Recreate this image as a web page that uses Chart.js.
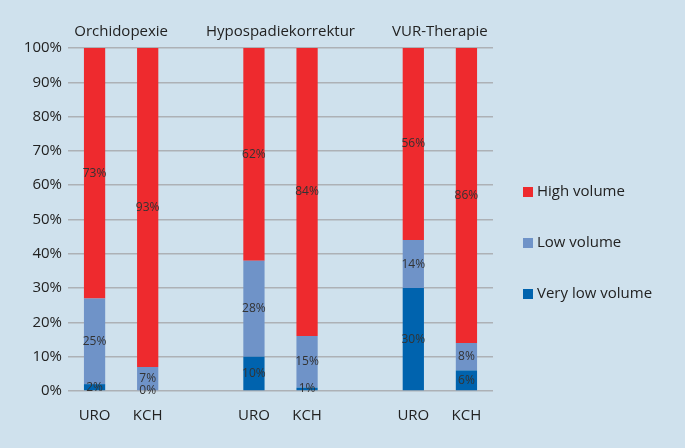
<!DOCTYPE html>
<html>
<head>
<meta charset="utf-8">
<script src="https://cdn.jsdelivr.net/npm/chart.js@4"></script>
<style>
  html, body { margin: 0; padding: 0; background: #cfe1ed; }
  #wrap { width: 685px; height: 448px; }
</style>
</head>
<body>
<div id="wrap"><canvas id="myChart"></canvas></div>
<script>
// categories (blank slots separate the groups)
const labels = ['URO', 'KCH', '', 'URO', 'KCH', '', 'URO', 'KCH'];
const groups = ['Orchidopexie', 'Hypospadiekorrektur', 'VUR-Therapie'];
const veryLow = [2, 0, null, 10, 1, null, 30, 6];
const low = [25, 7, null, 28, 15, null, 14, 8];
const high = [73, 93, null, 62, 84, null, 56, 86];
const yTicks = [0, 10, 20, 30, 40, 50, 60, 70, 80, 90, 100];

const fontFam = "'Open Sans', 'Noto Sans', sans-serif";

// percentage labels in the middle of each segment
const segLabels = {
  id: 'segLabels',
  afterDatasetsDraw(chart) {
    const ctx = chart.ctx;
    ctx.save();
    ctx.font = '12px ' + fontFam;
    ctx.fillStyle = '#333';
    ctx.textAlign = 'center';
    ctx.textBaseline = 'middle';
    chart.data.datasets.forEach((ds, i) => {
      chart.getDatasetMeta(i).data.forEach((bar, j) => {
        const v = ds.data[j];
        if (v === null) return;
        const p = bar.getProps(['x', 'y', 'base'], true);
        ctx.fillText(v + '%', p.x, (p.y + p.base) / 2);
      });
    });
    ctx.restore();
  }
};

// group titles + legend on the right
const extras = {
  id: 'extras',
  afterDraw(chart) {
    const ctx = chart.ctx;
    const xs = chart.scales.x;
    ctx.save();
    ctx.font = '15px ' + fontFam;
    ctx.fillStyle = '#222';
    ctx.textAlign = 'center';
    ctx.textBaseline = 'middle';
    groups.forEach((g, k) => {
      const x = (xs.getPixelForValue(k * 3) + xs.getPixelForValue(k * 3 + 1)) / 2;
      ctx.fillText(g, x, 32);
    });
    ctx.textAlign = 'left';
    const items = [2, 1, 0];
    items.forEach((di, k) => {
      const ds = chart.data.datasets[di];
      const y = 192 + k * 51;
      ctx.fillStyle = ds.backgroundColor;
      ctx.fillRect(523, y - 5, 10, 10);
      ctx.fillStyle = '#222';
      ctx.fillText(ds.label, 537, y);
    });
    ctx.restore();
  }
};

new Chart(document.getElementById('myChart').getContext('2d'), {
  type: 'bar',
  data: {
    labels: labels,
    datasets: [
      { label: 'Very low volume', data: veryLow, backgroundColor: '#0063ae' },
      { label: 'Low volume', data: low, backgroundColor: '#6f93c8' },
      { label: 'High volume', data: high, backgroundColor: '#ee2a2e' }
    ]
  },
  options: {
    responsive: true,
    maintainAspectRatio: false,
    animation: false,
    layout: { padding: { left: 0, right: 192, top: 48, bottom: 15 } },
    datasets: { bar: { categoryPercentage: 1, barPercentage: 0.4 } },
    scales: {
      x: {
        stacked: true,
        grid: { display: false },
        border: { display: false },
        ticks: { color: '#222', font: { family: fontFam, size: 15 }, padding: 8 }
      },
      y: {
        stacked: true,
        min: 0,
        max: 100,
        afterFit(scale) { scale.width = 68; },
        afterBuildTicks(scale) { scale.ticks = yTicks.map(v => ({ value: v })); },
        grid: { color: '#adb1b6', lineWidth: 1.5, drawTicks: false },
        border: { display: false },
        ticks: {
          color: '#222',
          font: { family: fontFam, size: 15 },
          padding: 6,
          callback: v => v + '%'
        }
      }
    },
    plugins: {
      legend: { display: false },
      tooltip: { enabled: false }
    }
  },
  plugins: [segLabels, extras]
});
</script>
</body>
</html>
